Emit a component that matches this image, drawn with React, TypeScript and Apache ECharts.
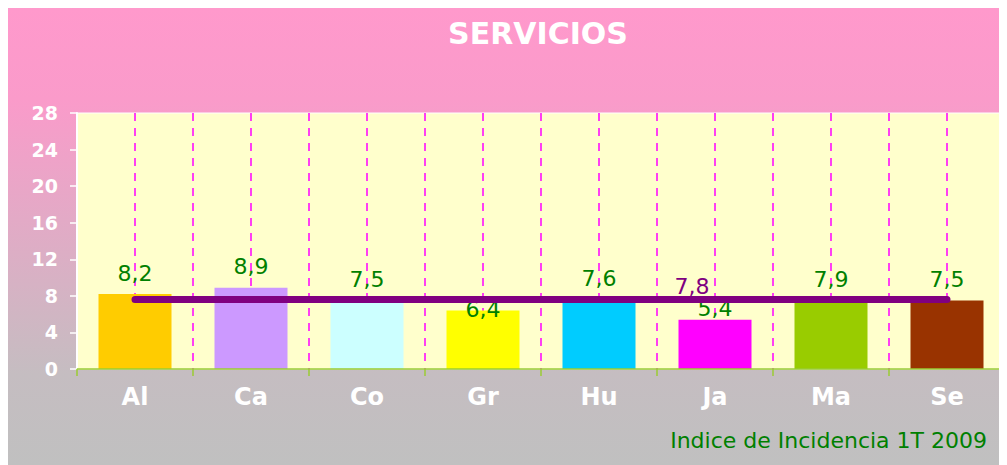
import React, { useEffect, useRef } from "react";
import * as echarts from "echarts";

// ---- data ----
const categories = ["Al", "Ca", "Co", "Gr", "Hu", "Ja", "Ma", "Se"];
const values = [8.2, 8.9, 7.5, 6.4, 7.6, 5.4, 7.9, 7.5];
const barColors = ["#FFCC00", "#CC99FF", "#CCFFFF", "#FFFF00", "#00CCFF", "#FF00FF", "#99CC00", "#993300"];
const averageLine = [7.6, 7.6, 7.6, 7.6, 7.6, 7.6, 7.6, 7.6];
const averageLabel = "7,8";
const averageLabelIndex = 5;
const yMin = 0;
const yMax = 28;
const yInterval = 4;
const titleText = "SERVICIOS";
const footerText = "Indice de Incidencia 1T 2009";

// ---- style ----
const FONT = "'DejaVu Sans', Verdana, sans-serif";
const labelShift = [0, 0, 0, 20, 0, 10, 4, 0];

const fmt = (v: number) => String(v).replace(".", ",");

export default function App() {
  const ref = useRef<HTMLDivElement>(null);

  useEffect(() => {
    document.documentElement.style.overflow = "hidden";
    document.body.style.overflow = "hidden";
    const chart = echarts.init(ref.current!, undefined, { renderer: "svg" });
    chart.setOption({
      animation: false,
      backgroundColor: "transparent",
      grid: {
        left: 69,
        top: 105,
        width: 928,
        height: 256,
        show: true,
        backgroundColor: "#FFFFCC",
        borderColor: "#FFFFFF",
        borderWidth: 1,
      },
      xAxis: [
        {
          type: "category",
          data: categories,
          boundaryGap: true,
          position: "bottom",
          axisLine: { show: true, lineStyle: { color: "#9ACD32", width: 1.5 } },
          axisTick: { show: true, length: 7, lineStyle: { color: "#9ACD32", width: 1.5 } },
          axisLabel: {
            color: "#FFFFFF",
            fontWeight: "bold",
            fontSize: 24,
            fontFamily: FONT,
            margin: 16,
          },
          splitLine: { show: false },
          z: 5,
        },
        {
          type: "value",
          min: 0,
          max: categories.length * 2,
          interval: 1,
          position: "top",
          axisLine: { show: false },
          axisTick: { show: false },
          axisLabel: { show: false },
          splitLine: {
            show: true,
            showMinLine: false,
            showMaxLine: false,
            lineStyle: { color: "#FF00FF", type: [8, 7], width: 1.5, opacity: 1 },
          },
        },
      ],
      yAxis: {
        type: "value",
        min: yMin,
        max: yMax,
        interval: yInterval,
        axisLine: { show: true, lineStyle: { color: "#FFFFFF", width: 2 } },
        axisTick: { show: true, length: 7, lineStyle: { color: "#FFFFFF", width: 1.5 } },
        axisLabel: {
          color: "#FFFFFF",
          fontWeight: "bold",
          fontSize: 19,
          fontFamily: FONT,
          margin: 19,
        },
        splitLine: { show: false },
        z: 5,
      },
      series: [
        {
          type: "bar",
          xAxisIndex: 0,
          barWidth: 73,
          data: values.map((v, i) => ({
            value: v,
            itemStyle: { color: barColors[i] },
            label: { offset: [0, labelShift[i]] },
          })),
          label: {
            show: true,
            position: "top",
            distance: 10,
            color: "#008000",
            fontSize: 22,
            fontFamily: FONT,
            formatter: (p: any) => fmt(p.value),
          },
          z: 2,
        },
        {
          type: "line",
          xAxisIndex: 0,
          data: averageLine.map((v, i) =>
            i === averageLabelIndex
              ? {
                  value: v,
                  label: {
                    show: true,
                    position: "top",
                    distance: 2,
                    offset: [-23, 0],
                    color: "#800080",
                    fontSize: 22,
                    fontFamily: FONT,
                    formatter: averageLabel,
                  },
                }
              : v
          ),
          symbol: "circle",
          symbolSize: 0.01,
          showSymbol: true,
          itemStyle: { color: "#800080", opacity: 1 },
          lineStyle: { color: "#800080", width: 7, cap: "round", opacity: 1 },
          z: 3,
        },
      ],
      graphic: [
        {
          type: "text",
          x: 530,
          y: 10,
          style: {
            text: titleText,
            font: `bold 30px ${FONT}`,
            fill: "#FFFFFF",
            textAlign: "center",
            textVerticalAlign: "top",
            align: "center",
            verticalAlign: "top",
          },
        },
        {
          type: "text",
          x: 979,
          y: 421,
          style: {
            text: footerText,
            font: `22px ${FONT}`,
            fill: "#008000",
            textAlign: "right",
            textVerticalAlign: "top",
            align: "right",
            verticalAlign: "top",
          },
        },
      ],
    });
    return () => chart.dispose();
  }, []);

  return (
    <div
      ref={ref}
      style={{
        width: 998,
        height: 457,
        background: "linear-gradient(to bottom, #FF99CC 0%, #FA9BCA 20%, #C5BDC1 80%, #C0C0C0 100%)",
      }}
    />
  );
}
